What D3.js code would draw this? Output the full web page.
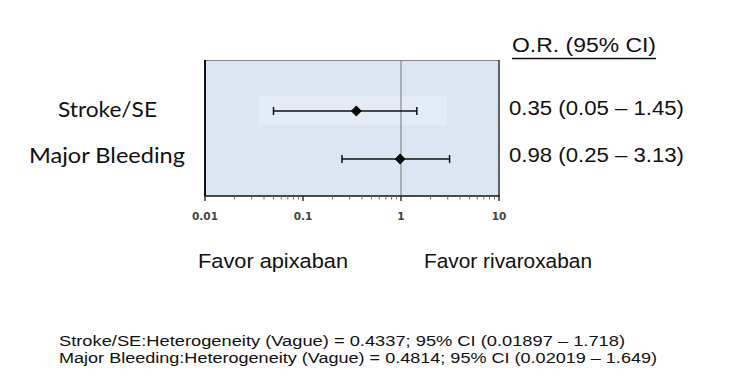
<!DOCTYPE html>
<html><head><meta charset="utf-8">
<script src="https://cdn.jsdelivr.net/npm/d3@7"></script>
<style>body{margin:0;background:#fff}svg{display:block}</style>
</head><body>
<svg id="c" width="731" height="379"></svg>
<script>
const outcomes = ["Stroke/SE", "Major Bleeding"];
const orValues = [0.35, 0.98];
const ciLow = [0.05, 0.25];
const ciHigh = [1.45, 3.13];
const orLabels = ["0.35 (0.05 \u2013 1.45)", "0.98 (0.25 \u2013 3.13)"];
const tickValues = [0.01, 0.1, 1, 10];
const tickLabels = ["0.01", "0.1", "1", "10"];
const favorLabels = ["Favor apixaban", "Favor rivaroxaban"];
const footnotes = [
  "Stroke/SE:Heterogeneity (Vague) = 0.4337; 95% CI (0.01897 \u2013 1.718)",
  "Major Bleeding:Heterogeneity (Vague) = 0.4814; 95% CI (0.02019 \u2013 1.649)"
];

const svg = d3.select("#c");
const x = d3.scaleLog().domain([0.01, 10]).range([205, 499]);
const y = d3.scalePoint().domain(outcomes).range([111, 159]);

function txt(px, py, s, size, family, len) {
  const t = svg.append("text").attr("x", px).attr("y", py)
    .attr("font-family", family).attr("font-size", size).attr("fill", "#111").text(s);
  if (len) t.attr("textLength", len).attr("lengthAdjust", "spacingAndGlyphs");
  return t;
}

// panel
svg.append("rect").attr("x", 205).attr("y", 60).attr("width", 294).attr("height", 136)
  .attr("fill", "#dce6f2");
svg.append("rect").attr("x", 258).attr("y", 96).attr("width", 189).attr("height", 29)
  .attr("fill", "#e3ebf6");
svg.append("line").attr("x1", 205).attr("x2", 499).attr("y1", 60.5).attr("y2", 60.5).attr("stroke", "#888").attr("stroke-width", 1);
svg.append("line").attr("x1", 205).attr("x2", 205).attr("y1", 60).attr("y2", 196).attr("stroke", "#111").attr("stroke-width", 2);
svg.append("line").attr("x1", 499).attr("x2", 499).attr("y1", 60).attr("y2", 196).attr("stroke", "#333").attr("stroke-width", 1.5);
svg.append("line").attr("x1", x(1)).attr("x2", x(1)).attr("y1", 60).attr("y2", 196).attr("stroke", "#777").attr("stroke-width", 1);

// axis
const minorTicks = [];
for (let d = 0.01; d < 10; d *= 10) for (let k = 2; k <= 9; k++) minorTicks.push(+(d * k).toPrecision(3));
const ax = svg.append("g");
ax.append("line").attr("x1", 204).attr("x2", 500).attr("y1", 196).attr("y2", 196).attr("stroke", "#111").attr("stroke-width", 1.5);
ax.selectAll("line.minor").data(minorTicks).join("line").attr("class", "minor")
  .attr("x1", d => x(d)).attr("x2", d => x(d)).attr("y1", 196).attr("y2", 199.5)
  .attr("stroke", "#666").attr("stroke-width", 1);
ax.selectAll("line.major").data(tickValues).join("line").attr("class", "major")
  .attr("x1", d => x(d)).attr("x2", d => x(d)).attr("y1", 196).attr("y2", 201)
  .attr("stroke", "#333").attr("stroke-width", 1.5);
ax.selectAll("text").data(tickValues).join("text")
  .attr("x", d => x(d)).attr("y", 220).attr("text-anchor", "middle")
  .attr("font-family", "DejaVu Sans").attr("font-size", 10.5).attr("font-weight", "bold")
  .attr("fill", "#444").text((d, i) => tickLabels[i]);

// error bars
const g = svg.append("g");
const leftX = [58, 29], leftLen = [99, 156];
const rightBase = [115, 162];
outcomes.forEach((o, i) => {
  const yy = y(o);
  g.append("line").attr("x1", x(ciLow[i])).attr("x2", x(ciHigh[i])).attr("y1", yy).attr("y2", yy)
    .attr("stroke", "#111").attr("stroke-width", 1.5);
  [ciLow[i], ciHigh[i]].forEach(v => {
    g.append("line").attr("x1", x(v)).attr("x2", x(v)).attr("y1", yy - 4).attr("y2", yy + 4)
      .attr("stroke", "#111").attr("stroke-width", 1.5);
  });
  const cx = x(orValues[i]);
  g.append("path").attr("d", `M${cx},${yy - 5.5}L${cx + 5.5},${yy}L${cx},${yy + 5.5}L${cx - 5.5},${yy}Z`).attr("fill", "#000");
  txt(leftX[i], yy + 6 + (i ? -2 : 0), o, 21, "Lato", leftLen[i]);
  txt(509, rightBase[i], orLabels[i], 20, "Liberation Sans", 175);
});

// header
txt(512, 52, "O.R. (95% CI)", 19.5, "Liberation Sans", 144);
svg.append("line").attr("x1", 512).attr("x2", 656).attr("y1", 58.5).attr("y2", 58.5).attr("stroke", "#111").attr("stroke-width", 1.3);

// favor labels
txt(198, 268, favorLabels[0], 20.5, "Liberation Sans", 150);
txt(424, 268, favorLabels[1], 20.5, "Liberation Sans", 168);

// footnotes
const fnWidths = [566, 598];
footnotes.forEach((t, i) => txt(59, 346 + i * 17, t, 15.5, "Liberation Sans", fnWidths[i]));
</script>
</body></html>
